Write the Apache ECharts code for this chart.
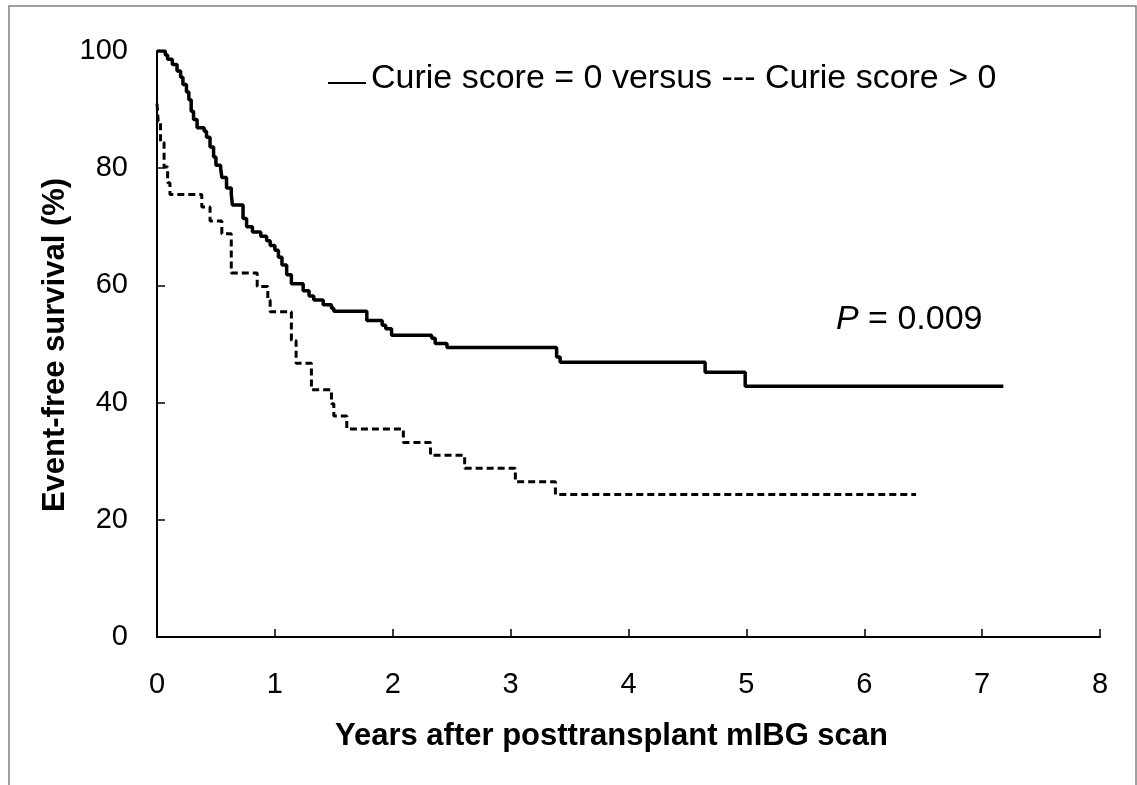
<!DOCTYPE html>
<html>
<head>
<meta charset="utf-8">
<script src="https://cdn.jsdelivr.net/npm/echarts@6/dist/echarts.min.js"></script>
<style>
html,body{margin:0;padding:0;background:#fff;}
#chart{width:1137px;height:785px;}
</style>
</head>
<body>
<div id="chart"></div>
<script>
// Kaplan-Meier steps: [years, event-free survival %]
const curieZeroYears = [0, 0.07, 0.09, 0.13, 0.17, 0.20, 0.22, 0.25, 0.27, 0.29, 0.31, 0.34, 0.40, 0.42, 0.45, 0.48, 0.50, 0.54, 0.55, 0.59, 0.63, 0.64, 0.73, 0.76, 0.81, 0.88, 0.93, 0.96, 1.00, 1.03, 1.06, 1.10, 1.14, 1.24, 1.29, 1.33, 1.41, 1.48, 1.50, 1.78, 1.91, 1.94, 1.99, 2.33, 2.36, 2.46, 3.39, 3.42, 4.65, 4.99, 7.18];
const curieZeroSurv  = [100, 99.3, 98.6, 97.7, 96.6, 95.5, 94.3, 93.0, 91.7, 89.7, 88.3, 86.9, 86.3, 85.3, 83.6, 81.9, 80.5, 80.0, 78.4, 76.6, 75.6, 73.7, 71.4, 70.0, 69.1, 68.4, 67.6, 66.8, 66.0, 64.8, 63.5, 61.8, 60.3, 59.1, 58.2, 57.5, 56.7, 56.1, 55.6, 54.0, 53.2, 52.6, 51.5, 51.0, 50.1, 49.4, 47.8, 46.9, 45.2, 42.8, 42.8];
const curiePosYears  = [0, 0.01, 0.03, 0.06, 0.09, 0.11, 0.38, 0.45, 0.55, 0.63, 0.85, 0.94, 0.96, 1.14, 1.18, 1.31, 1.48, 1.50, 1.61, 2.09, 2.32, 2.61, 3.04, 3.38, 6.44];
const curiePosSurv   = [91, 88, 84.4, 80.2, 77.5, 75.5, 73.4, 71.0, 68.8, 62.1, 59.8, 57.5, 55.5, 50.6, 46.7, 42.2, 39.8, 37.7, 35.5, 33.2, 31.0, 28.8, 26.5, 24.3, 24.3];
const xTicks = [0, 1, 2, 3, 4, 5, 6, 7, 8];
const yTicks = [0, 20, 40, 60, 80, 100];

const FONT = '"Liberation Sans", Arial, sans-serif';
const zip = (a, b) => a.map((v, i) => [v, b[i]]);

const chart = echarts.init(document.getElementById('chart'), null, {renderer: 'canvas'});
chart.setOption({
  backgroundColor: '#fff',
  animation: false,
  grid: {left: 157, right: 37, top: 51, bottom: 148, containLabel: false},
  xAxis: {
    type: 'value', min: xTicks[0], max: xTicks[xTicks.length - 1], interval: 1,
    axisLine: {show: true, lineStyle: {color: '#000', width: 2}},
    axisTick: {show: true, inside: true, length: 8, lineStyle: {color: '#000', width: 1.5}},
    axisLabel: {color: '#000', fontSize: 29, fontFamily: FONT, margin: 33},
    splitLine: {show: false}
  },
  yAxis: {
    type: 'value', min: yTicks[0], max: yTicks[yTicks.length - 1], interval: 20,
    axisLine: {show: true, lineStyle: {color: '#000', width: 2}},
    axisTick: {show: true, inside: true, length: 8, lineStyle: {color: '#000', width: 1.5}},
    axisLabel: {color: '#000', fontSize: 29, fontFamily: FONT, margin: 29},
    splitLine: {show: false}
  },
  series: [
    {
      name: 'Curie score = 0', type: 'line', step: 'end', symbol: 'none',
      data: zip(curieZeroYears, curieZeroSurv),
      lineStyle: {color: '#000', width: 3.5, type: 'solid'}
    },
    {
      name: 'Curie score > 0', type: 'line', step: 'end', symbol: 'none',
      data: zip(curiePosYears, curiePosSurv),
      lineStyle: {color: '#000', width: 3, type: [7, 4]}
    }
  ],
  graphic: [
    {type: 'rect', silent: true, shape: {x: 9, y: 6, width: 1127, height: 800},
     style: {fill: 'none', stroke: '#808080', lineWidth: 1.5}},
    {type: 'line', silent: true, shape: {x1: 328, y1: 83, x2: 366, y2: 83},
     style: {stroke: '#000', lineWidth: 2}},
    {type: 'text', silent: true, left: 371, top: 62,
     style: {text: 'Curie score = 0 versus --- Curie score > 0', fill: '#000', font: '34px ' + FONT}},
    {type: 'text', silent: true, left: 836, top: 303,
     style: {text: '{i|P} = 0.009', fill: '#000', font: '34px ' + FONT,
       rich: {i: {fontStyle: 'italic', fontSize: 34, fontFamily: FONT, fill: '#000'}}}},
    {type: 'text', silent: true, left: 335, top: 721,
     style: {text: 'Years after posttransplant mIBG scan', fill: '#000', font: 'bold 31px ' + FONT}},
    {type: 'text', silent: true, x: 55, y: 345, rotation: Math.PI / 2,
     style: {text: 'Event-free survival (%)', fill: '#000', font: 'bold 31px ' + FONT,
       textAlign: 'center', textVerticalAlign: 'middle'}}
  ]
});
</script>
</body>
</html>
